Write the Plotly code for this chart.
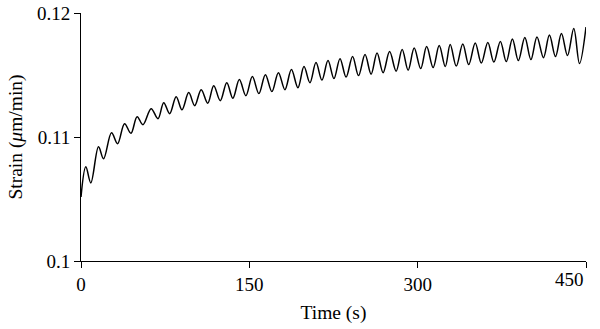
import plotly.graph_objects as go

# Local peaks and troughs of the strain record (time in s, strain in µm/min)
start_time = [0.0]
start_strain = [0.10517]

peak_time = [4.3, 15.6, 27.2, 38.8, 50.0, 62.5, 73.7, 84.8, 96.0, 107.1,
             118.3, 129.9, 141.1, 152.7, 164.3, 175.9, 187.5, 198.7, 209.4, 220.1,
             230.8, 242.0, 253.1, 263.8, 275.0, 286.2, 296.9, 308.0, 319.2, 329.0,
             340.2, 351.3, 362.5, 373.7, 384.4, 395.5, 406.3, 417.4, 428.1, 439.1,
             450.0]
peak_strain = [0.10760, 0.10921, 0.11034, 0.11107, 0.11164, 0.11228, 0.11277, 0.11325, 0.11358, 0.11382,
               0.11414, 0.11438, 0.11463, 0.11487, 0.11503, 0.11519, 0.11544, 0.11568, 0.11600, 0.11616,
               0.11632, 0.11649, 0.11665, 0.11677, 0.11689, 0.11705, 0.11717, 0.11729, 0.11737, 0.11746,
               0.11750, 0.11758, 0.11762, 0.11770, 0.11790, 0.11802, 0.11806, 0.11822, 0.11834, 0.11875,
               0.11887]

trough_time = [8.75, 20.1, 32.6, 44.5, 55.2, 68.6, 79.0, 90.0, 101.3, 112.9,
               124.1, 135.3, 146.9, 158.5, 170.1, 181.7, 193.3, 204.0, 214.7, 225.4,
               236.2, 247.3, 258.5, 269.2, 280.8, 291.5, 302.7, 313.8, 324.6, 334.4,
               345.5, 356.7, 367.9, 379.0, 389.7, 400.9, 412.1, 422.8, 433.5, 444.2]
trough_strain = [0.10630, 0.10824, 0.10946, 0.11030, 0.11099, 0.11148, 0.11188, 0.11220, 0.11253, 0.11273,
                 0.11293, 0.11313, 0.11333, 0.11350, 0.11366, 0.11382, 0.11398, 0.11438, 0.11459, 0.11471,
                 0.11483, 0.11495, 0.11507, 0.11519, 0.11531, 0.11539, 0.11552, 0.11560, 0.11568, 0.11572,
                 0.11584, 0.11596, 0.11604, 0.11608, 0.11616, 0.11624, 0.11640, 0.11649, 0.11657, 0.11592]

x_ticks = [0, 150, 300, 450]
x_tick_text = ["0", "150", "300", "450"]
y_ticks = [0.10, 0.11, 0.12]
y_tick_text = ["0.1", "0.11", "0.12"]

# merge the extrema into one time-ordered series
pts = sorted(zip(start_time + peak_time + trough_time,
                 start_strain + peak_strain + trough_strain))
t = [p[0] for p in pts]
s = [p[1] for p in pts]

serif = "Liberation Serif"

fig = go.Figure(go.Scatter(
    x=t, y=s, mode="lines",
    line=dict(color="black", width=1.5, shape="spline", smoothing=1.0),
    hoverinfo="skip",
))

fig.update_layout(
    width=600, height=329,
    margin=dict(l=81, r=14, t=13, b=68, autoexpand=False),
    paper_bgcolor="white", plot_bgcolor="white",
    showlegend=False,
    font=dict(family=serif, size=19, color="black"),
)

# the last x label sits right-aligned to its tick so it stays on the page
axis_ticktext = x_tick_text[:-1] + [""]
fig.add_annotation(
    x=x_ticks[-1], y=0, xref="x", yref="paper",
    text=x_tick_text[-1], showarrow=False,
    xanchor="right", yanchor="top", xshift=0, yshift=-6,
    font=dict(family=serif, size=19, color="black"),
)

fig.update_xaxes(
    range=[0, 450], tickvals=x_ticks, ticktext=axis_ticktext,
    showline=True, linecolor="black", linewidth=1,
    ticks="outside", ticklen=6, tickwidth=1, tickcolor="black",
    showgrid=False, zeroline=False, automargin=False,
    tickfont=dict(size=19),
    title=dict(text="Time (s)", standoff=11, font=dict(size=19.5)),
)
fig.update_yaxes(
    range=[0.1, 0.12], tickvals=y_ticks, ticktext=y_tick_text,
    showline=True, linecolor="black", linewidth=1,
    ticks="outside", ticklen=6, tickwidth=1, tickcolor="black",
    showgrid=False, zeroline=False, automargin=False,
    tickfont=dict(size=19),
    title=dict(text="Strain (<i>μ</i>m/min)", standoff=9, font=dict(size=19.5)),
)

fig.write_html("out.html")
